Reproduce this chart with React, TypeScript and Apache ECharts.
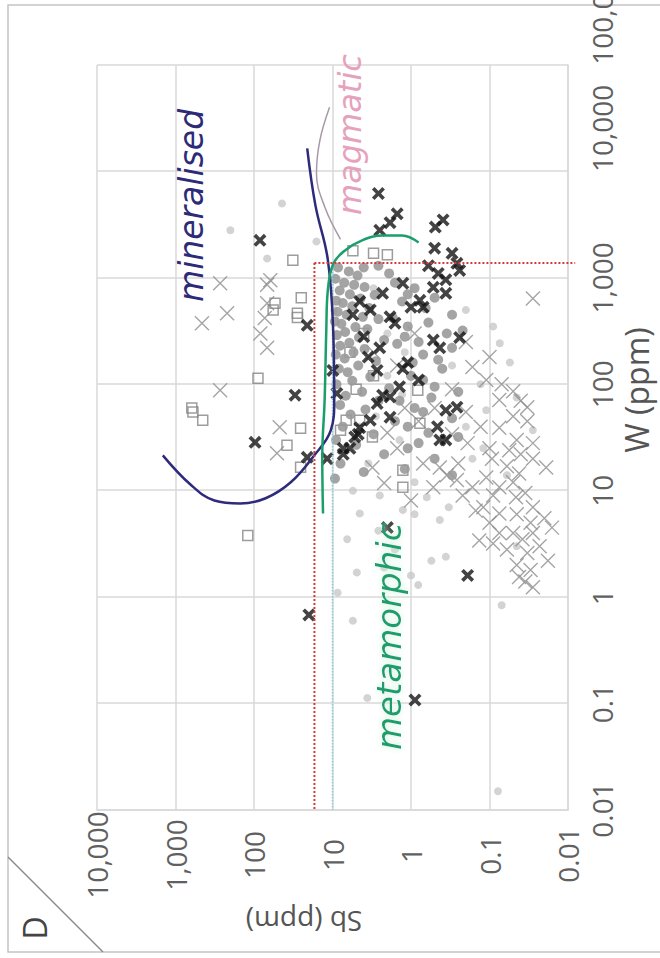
import React, { useEffect, useRef } from "react";
import * as echarts from "echarts";

// ---- axis ranges ----
const wRange = [0.01, 100000];
const sbRange = [0.01, 10000];

// ---- threshold lines ----
const sbThreshold = 17;
const wThreshold = 1380;

// ---- curves [W ppm, Sb ppm] ----
const mineralisedCurve = [
  [16500, 21], [4800, 16.5], [1500, 11.5], [320, 9.8], [70, 9.5], [37, 10.5],
  [21, 17.5], [12, 34], [8.5, 71], [7.6, 150], [8.1, 320], [11.5, 650], [21.5, 1450],
];
const metamorphicCurve = [
  [6.1, 13.2], [21, 13.5], [71, 12.6], [320, 12], [750, 11.5], [1350, 9.8],
  [1800, 7], [2250, 4.2], [2500, 2.3], [2500, 1.3], [2150, 0.8],
];
const magmaticCurve = [
  [40000, 10.9], [19500, 14.5], [9600, 16], [4600, 12.5], [2300, 7.9],
];

// ---- samples [W ppm, Sb ppm] ----
const lightGreyPts = [
  [5000, 44], [2800, 200], [1520, 68], [2200, 16], [243, 0.074], [37, 0.028],
  [57, 0.11], [6.1, 4.5], [5.3, 0.43], [2.4, 0.36], [1.7, 4.9], [6.6, 1.27],
  [20, 0.165], [8.7, 0.63], [1.1, 8.6], [1.3, 0.81], [0.113, 3.6], [0.015, 0.078],
  [0.84, 0.07], [0.6, 5.5], [1.6, 1.0], [2.2, 0.55], [3.5, 6.5], [9, 2.5],
  [12, 0.9], [25, 0.12], [40, 0.2], [100, 0.13], [150, 0.3], [350, 0.09],
  [500, 0.2], [3.0, 0.045], [14, 0.06], [7, 0.33], [30, 1.4], [18, 3.5],
  [800, 3], [500, 9.5], [300, 2], [200, 1.2], [120, 2], [80, 1.3], [50, 2.8], [40, 4.5],
  [4.2, 2.6], [2.8, 1.6], [10, 5.5], [6, 0.9], [1.9, 2.2], [75, 0.045], [160, 0.055],
];
const greyCrossPts = [
  [86, 0.05], [61, 0.033], [39, 0.075], [24, 0.056], [20, 0.028], [16.5, 0.019],
  [14.5, 0.042], [20, 0.093], [13.3, 0.11], [10.8, 0.075], [8.7, 0.046], [7, 0.028],
  [4, 0.028], [4, 0.05], [2.6, 0.033], [3.0, 0.023], [1.55, 0.042], [1.24, 0.028],
  [34, 0.3], [28, 0.19], [16.5, 0.43], [12.6, 0.26], [10.8, 0.165], [10.8, 0.52],
  [7, 0.12], [6.1, 0.075], [8.1, 1.0], [11.8, 2.2], [16.5, 3.1], [3.4, 0.135],
  [4, 0.075], [110, 0.11], [145, 0.165], [71, 0.075], [640, 0.028],
  [890, 270], [950, 62], [465, 220], [375, 460], [577, 68], [88, 270], [39.5, 47],
  [22.5, 51], [420, 73], [860, 68], [220, 68], [300, 83],
  [200, 3], [150, 1.5], [60, 1.2], [45, 0.8], [300, 0.9], [35, 2], [25, 1.5], [18, 0.7],
  [4.5, 0.016], [2.2, 0.018], [1.8, 0.03], [5.5, 0.02],
  [70, 0.04], [50, 0.05], [45, 0.033], [30, 0.045], [28, 0.028], [22, 0.04], [17, 0.06],
  [12, 0.05], [9.5, 0.035], [6, 0.045], [5, 0.03], [3.5, 0.038], [2.8, 0.06], [2.0, 0.045],
  [1.4, 0.035], [9, 0.09], [6.5, 0.15], [5, 0.1], [3.2, 0.09], [25, 0.1], [40, 0.13],
  [55, 0.2], [18, 0.25], [14, 0.35], [9, 0.22], [100, 0.07], [180, 0.1], [250, 0.2],
  [60, 0.5], [90, 0.3],
];
const greySquarePts = [
  [1460, 32], [650, 25], [577, 54], [425, 28], [500, 57], [465, 28], [114, 89],
  [60, 620], [46, 450], [55, 600], [38.6, 25.5], [26.7, 38], [16.6, 25.5], [3.8, 120],
  [37, 7.9], [46, 6.7], [46, 4.5], [32, 3.1], [43, 0.77], [88, 0.82], [15.6, 1.27],
  [10.8, 1.27], [1800, 5.5], [1700, 3.0], [1650, 2.0], [300, 4], [200, 6], [120, 3], [90, 5],
];
const greyCirclePts = [
  [1250, 8.5], [1150, 6.2], [1050, 4.8], [980, 9.2], [900, 7.1], [860, 5.3], [820, 3.9],
  [760, 8.1], [700, 6.0], [690, 2.9], [640, 4.4], [610, 9.0], [580, 7.4], [540, 5.6],
  [520, 3.4], [480, 8.6], [450, 6.6], [430, 4.1], [410, 2.6], [390, 9.3], [370, 7.7],
  [345, 5.1], [330, 3.6], [310, 6.9], [290, 8.8], [275, 4.6], [260, 2.2], [245, 6.1],
  [230, 8.0], [215, 3.9], [200, 5.4], [190, 9.1], [175, 7.0], [165, 2.8], [150, 4.7],
  [140, 8.3], [130, 6.4], [118, 3.3], [108, 5.6], [100, 8.9], [92, 1.9], [85, 4.2],
  [78, 6.8], [70, 2.6], [64, 8.0], [58, 3.8], [52, 5.9], [45, 1.6], [40, 7.4], [34, 3.0],
  [30, 9.0], [27, 5.0], [22, 2.2], [18, 7.9], [15, 4.0], [13, 9.3], [900, 1.6], [600, 1.3],
  [350, 1.1], [250, 0.8], [160, 0.95], [110, 0.7], [75, 0.55], [520, 0.65], [1100, 1.9],
  [1300, 2.6], [1250, 4.0], [60, 0.9], [35, 0.6], [25, 1.1], [170, 0.45], [300, 0.35],
  [240, 1.5], [420, 1.7], [700, 1.1],
  [800, 0.9], [650, 0.5], [450, 0.3], [380, 0.6], [320, 0.22], [280, 1.2], [220, 0.3],
  [190, 0.7], [140, 0.4], [120, 1.0], [95, 0.5], [85, 0.25], [70, 1.4], [55, 0.7],
  [48, 0.3], [40, 1.1], [32, 0.25], [28, 0.8], [20, 0.5], [16, 1.2], [14, 0.3],
];
const blackCrossPts = [
  [6200, 2.6], [4000, 1.5], [3300, 1.85], [2800, 2.5], [3500, 0.39], [3000, 0.49],
  [1700, 0.3], [1370, 0.26], [1175, 0.24], [815, 0.52], [715, 0.36], [615, 0.77],
  [530, 1.0], [375, 1.6], [220, 2.5], [220, 0.43], [275, 0.24], [57, 0.36], [61, 0.26],
  [30, 0.43], [79, 2.3], [76, 1.85], [25, 7.3], [32, 5.2], [39, 4.5], [46, 3.3],
  [4.5, 2.0], [1.6, 0.19], [0.68, 20], [0.108, 0.89], [2250, 84], [28.5, 97], [79, 30],
  [20.6, 21], [20, 11.7], [135, 9.9], [82, 8.8], [358, 21], [960, 0.36], [715, 2.3],
  [890, 1.27], [530, 0.7], [500, 3.3], [430, 1.85], [260, 0.52], [66, 2.7], [34, 4.7],
  [25, 6], [22, 7.3], [40, 0.46], [30, 0.36], [135, 2.7], [140, 1.27], [49, 1.85],
  [1300, 0.6], [1100, 0.45], [1900, 0.5],
  [600, 4.5], [450, 5.5], [280, 4], [180, 3.5], [160, 1.1], [110, 0.8], [95, 1.4],
];

const FONT = '"Open Sans", "Noto Sans", sans-serif';
const NOTE_FONT = '"DejaVu Sans", sans-serif';
const crossPath = "path://M0,0L10,10M10,0L0,10";
const boldCrossPath =
  "path://M2,0L5,3L8,0L10,2L7,5L10,8L8,10L5,7L2,10L0,8L3,5L0,2Z";

function fmt(v: number) {
  const n = Number(v.toPrecision(6));
  return n >= 1000 ? n.toLocaleString("en-US") : String(n);
}

export default function App() {
  const ref = useRef<HTMLDivElement>(null);
  useEffect(() => {
    if (!ref.current) return;
    const chart = echarts.init(ref.current, undefined, {
      renderer: "svg",
      width: 958,
      height: 660,
    });
    const gridColor = "#d9d9d9";
    const labelColor = "#606060";
    const richBase = { color: labelColor, fontSize: 28, fontFamily: FONT };
    chart.setOption({
      animation: false,
      backgroundColor: "#ffffff",
      grid: {
        left: 148,
        right: 65,
        top: 97,
        bottom: 92,
        containLabel: false,
        outerBoundsMode: "none",
      },
      xAxis: {
        type: "log",
        logBase: 10,
        min: wRange[0],
        max: wRange[1],
        splitNumber: 7,
        axisLine: { show: true, lineStyle: { color: gridColor, width: 1.5 } },
        axisTick: { show: false },
        splitLine: { show: true, lineStyle: { color: gridColor, width: 1.5 } },
        axisLabel: {
          color: labelColor,
          fontSize: 28,
          fontFamily: FONT,
          margin: 20,
          showMinLabel: true,
          showMaxLabel: true,
          hideOverlap: false,
          formatter: (v: number) => {
            const s = fmt(v);
            const n = Number(v.toPrecision(6));
            if (n >= 100000) return `{l6|${s}}`;
            if (n >= 10000) return `{l5|${s}}`;
            return s;
          },
          rich: {
            l5: { ...richBase, padding: [0, 0, 0, 86] },
            l6: { ...richBase, padding: [0, 0, 0, 104] },
          },
        },
      },
      yAxis: {
        type: "log",
        logBase: 10,
        min: sbRange[0],
        max: sbRange[1],
        splitNumber: 6,
        axisLine: { show: true, lineStyle: { color: gridColor, width: 1.5 } },
        axisTick: { show: false },
        splitLine: { show: true, lineStyle: { color: gridColor, width: 1.5 } },
        axisLabel: {
          color: labelColor,
          fontSize: 28,
          fontFamily: FONT,
          margin: 45,
          align: "center",
          formatter: fmt,
          showMinLabel: true,
          showMaxLabel: true,
        },
      },
      graphic: [
        {
          type: "rect",
          shape: { x: 6, y: 8, width: 947, height: 700 },
          style: { fill: "none", stroke: "#c4c4c4", lineWidth: 1.5 },
          silent: true,
        },
        {
          type: "line",
          shape: { x1: 101, y1: 8, x2: 6, y2: 103 },
          style: { stroke: "#8a8a8a", lineWidth: 1.5 },
          silent: true,
        },
        {
          type: "text",
          x: 30,
          y: 34,
          style: {
            text: "D",
            fontSize: 32,
            fontFamily: FONT,
            fill: "#444",
            align: "center",
            verticalAlign: "middle",
          },
        },
        {
          type: "text",
          x: 568,
          y: 636,
          style: {
            text: "W (ppm)",
            fontSize: 32,
            fontFamily: FONT,
            fill: "#555",
            align: "center",
            verticalAlign: "middle",
          },
        },
        {
          type: "text",
          x: 36,
          y: 304,
          rotation: Math.PI / 2,
          style: {
            text: "Sb (ppm)",
            fontSize: 28,
            fontFamily: FONT,
            fill: "#555",
            align: "center",
            verticalAlign: "middle",
          },
        },
        {
          type: "text",
          x: 656,
          y: 191,
          z: 100,
          style: {
            text: "mineralised",
            fontSize: 33,
            fontStyle: "italic",
            fontFamily: NOTE_FONT,
            fill: "#2d2a78",
            align: "left",
            verticalAlign: "middle",
          },
        },
        {
          type: "text",
          x: 743,
          y: 350,
          z: 100,
          style: {
            text: "magmatic",
            fontSize: 32,
            fontStyle: "italic",
            fontFamily: NOTE_FONT,
            fill: "#e6a2bd",
            align: "left",
            verticalAlign: "middle",
          },
        },
        {
          type: "text",
          x: 208,
          y: 389,
          z: 100,
          style: {
            text: "metamorphic",
            fontSize: 34,
            fontStyle: "italic",
            fontFamily: NOTE_FONT,
            fill: "#1a9e6c",
            align: "left",
            verticalAlign: "middle",
            textShadowColor: "#c9f2dc",
            textShadowBlur: 6,
          },
        },
      ],
      series: [
        {
          type: "scatter",
          data: lightGreyPts,
          symbol: "circle",
          symbolSize: 8,
          itemStyle: { color: "#c8c8c8" },
          silent: true,
          z: 2,
        },
        {
          type: "scatter",
          data: greyCrossPts,
          symbol: crossPath,
          symbolSize: 14,
          itemStyle: { color: "rgba(0,0,0,0)", borderColor: "#8e8e8e", borderWidth: 1.4 },
          silent: true,
          z: 3,
        },
        {
          type: "scatter",
          data: greySquarePts,
          symbol: "rect",
          symbolSize: 10,
          itemStyle: { color: "rgba(255,255,255,0)", borderColor: "#858585", borderWidth: 1.5 },
          silent: true,
          z: 4,
        },
        {
          type: "scatter",
          data: greyCirclePts,
          symbol: "circle",
          symbolSize: 10,
          itemStyle: { color: "#9a9a9a", opacity: 0.9 },
          silent: true,
          z: 5,
        },
        {
          type: "scatter",
          data: blackCrossPts,
          symbol: boldCrossPath,
          symbolSize: 13,
          itemStyle: { color: "#141414" },
          silent: true,
          z: 6,
        },
        {
          type: "line",
          data: [[wThreshold, 10], [wRange[0], 10]],
          showSymbol: false,
          symbol: "none",
          lineStyle: { color: "#7fcfe0", width: 1.5, type: "dotted" },
          silent: true,
          z: 7,
        },
        {
          type: "line",
          data: magmaticCurve,
          smooth: 0.4,
          showSymbol: false,
          symbol: "none",
          lineStyle: { color: "#a898a8", width: 1.5 },
          silent: true,
          z: 8,
        },
        {
          type: "line",
          data: mineralisedCurve,
          smooth: 0.4,
          showSymbol: false,
          symbol: "none",
          lineStyle: { color: "#2e2b7b", width: 2.5 },
          silent: true,
          z: 9,
        },
        {
          type: "line",
          data: metamorphicCurve,
          smooth: 0.4,
          showSymbol: false,
          symbol: "none",
          lineStyle: { color: "#1a9e6c", width: 2.5 },
          silent: true,
          z: 10,
        },
        {
          type: "line",
          data: [[wThreshold, sbThreshold], [0.0062, sbThreshold]],
          showSymbol: false,
          symbol: "none",
          clip: false,
          lineStyle: { color: "#d23c3c", width: 2, type: "dotted" },
          silent: true,
          z: 11,
        },
        {
          type: "line",
          data: [[wThreshold, sbThreshold], [wThreshold, 0.0081]],
          showSymbol: false,
          symbol: "none",
          clip: false,
          lineStyle: { color: "#d23c3c", width: 2, type: "dotted" },
          silent: true,
          z: 11,
        },
      ],
    });
    return () => chart.dispose();
  }, []);

  return (
    <div
      style={{
        position: "fixed",
        left: 0,
        top: 0,
        width: 660,
        height: 958,
        overflow: "hidden",
        background: "#fff",
      }}
    >
      <div
        ref={ref}
        style={{
          position: "absolute",
          left: 0,
          top: 0,
          width: 958,
          height: 660,
          transformOrigin: "0 0",
          transform: "translate(0px, 958px) rotate(-90deg)",
        }}
      />
    </div>
  );
}
